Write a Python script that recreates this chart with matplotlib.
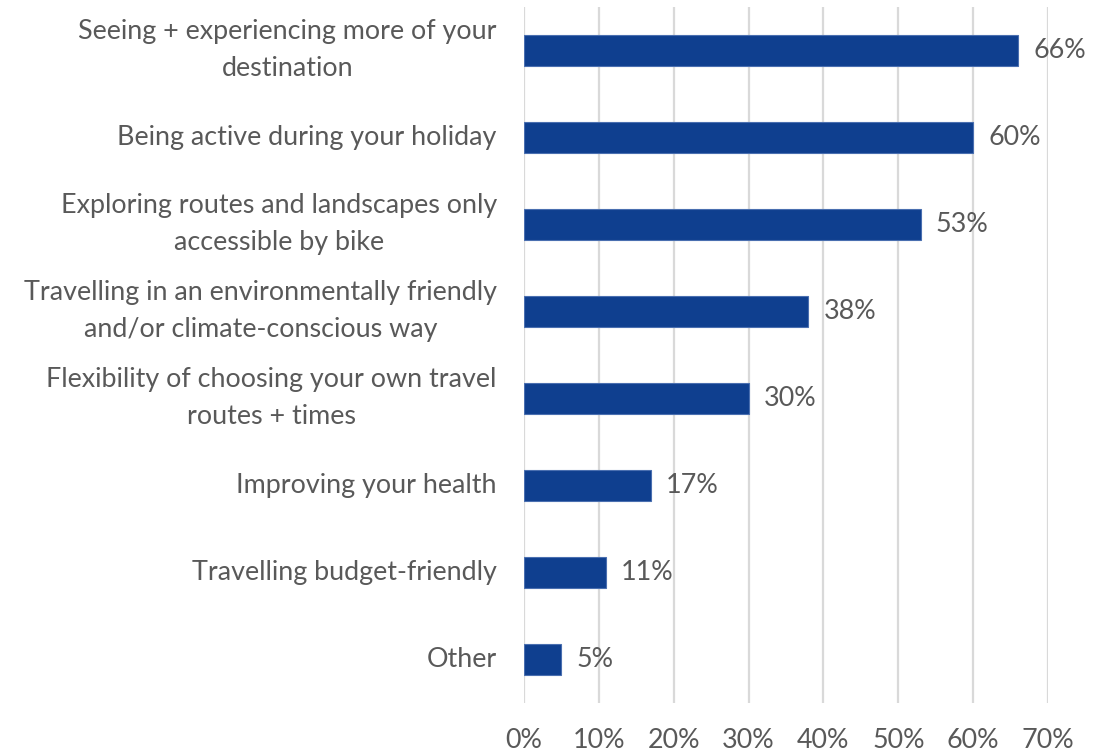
import matplotlib
matplotlib.use("Agg")
import matplotlib.pyplot as plt
from matplotlib.ticker import FuncFormatter

# -----------------------------------------------------------------------------
# Data
# -----------------------------------------------------------------------------
categories = [
    "Seeing + experiencing more of your\ndestination",
    "Being active during your holiday",
    "Exploring routes and landscapes only\naccessible by bike",
    "Travelling in an environmentally friendly\nand/or climate-conscious way",
    "Flexibility of choosing your own travel\nroutes + times",
    "Improving your health",
    "Travelling budget-friendly",
    "Other",
]
values = [66, 60, 53, 38, 30, 17, 11, 5]
x_ticks = [0, 10, 20, 30, 40, 50, 60, 70]

BAR_COLOR = "#0F3F8F"
TEXT_COLOR = "#595959"
GRID_COLOR = "#D9D9D9"
FS = 19.4

plt.rcParams["font.family"] = ["Lato", "DejaVu Sans"]

fig = plt.figure(figsize=(11.11, 7.53), dpi=100)
ax = fig.add_axes([0.4716, 0.0669, 0.4717, 0.9243])

ypos = list(range(len(categories)))
ax.barh(ypos, values, height=0.355, color=BAR_COLOR,
        edgecolor="#4A6FB0", linewidth=0.8, zorder=3)

for y, v in zip(ypos, values):
    ax.text(v + 2.0, y, f"{v}%", va="center", ha="left",
            fontsize=FS, color=TEXT_COLOR)

ax.set_ylim(len(categories) - 0.5, -0.5)
ax.set_xlim(0, 70)
ax.set_yticks(ypos)
ax.set_yticklabels(categories, fontsize=FS, color=TEXT_COLOR,
                   multialignment="center", linespacing=1.58, va="center")
ax.set_xticks(x_ticks)
ax.xaxis.set_major_formatter(FuncFormatter(lambda v, p: f"{v:.0f}%"))
ax.tick_params(axis="x", labelsize=FS, colors=TEXT_COLOR, length=0, pad=18)
ax.tick_params(axis="y", length=0, pad=19.5)

ax.grid(axis="x", color=GRID_COLOR, linewidth=1.6, zorder=0)
for s in ax.spines.values():
    s.set_visible(False)

plt.savefig("out.png", dpi=100)
